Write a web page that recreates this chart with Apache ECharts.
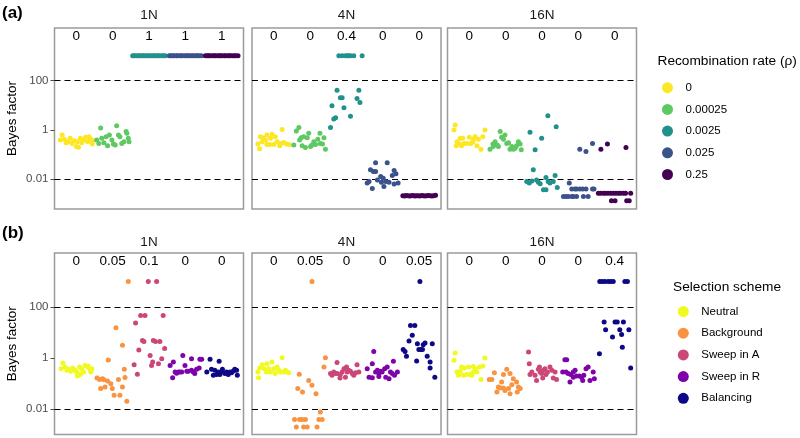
<!DOCTYPE html>
<html>
<head>
<meta charset="utf-8">
<script src="https://cdn.jsdelivr.net/npm/echarts@6/dist/echarts.min.js"></script>
<style>
html,body{margin:0;padding:0;background:#fff;}
#chart{width:800px;height:438px;}
</style>
</head>
<body>
<div id="chart"></div>
<script>
// ---------------- DATA ----------------
const panelNames = ['1N', '4N', '16N'];
const rhoNames = ['0', '0.00025', '0.0025', '0.025', '0.25'];
const rhoColors = ['#FDE725', '#5EC962', '#21918C', '#3B528B', '#440154'];
const selNames = ['Neutral', 'Background', 'Sweep in A', 'Sweep in R', 'Balancing'];
const selColors = ['#F0F921', '#F89441', '#CC4678', '#7E03A8', '#0D0887'];
const yTickValues = [0.01, 1, 100];
const yTickLabels = ['0.01', '1', '100'];
const refLines = [100, 0.01];
// fraction of replicates with saturated Bayes factor, shown on top of each column
const fracRho = [['0', '0', '1', '1', '1'], ['0', '0', '0.4', '0', '0'], ['0', '0', '0', '0', '0']];
const fracSel = [['0', '0.05', '0.1', '0', '0'], ['0', '0.05', '0', '0', '0.05'], ['0', '0', '0', '0', '0.4']];

// Each point: [jitter offset from column centre, log10(Bayes factor)]
// ---- (a) recombination rate, 1N ----
const rho1N_0 = [[-0.39,-0.21],[-0.44,-0.41],[-0.33,-0.38],[-0.28,-0.52],[-0.22,-0.48],[-0.17,-0.34],[-0.12,-0.55],[-0.06,-0.44],[0.00,-0.68],[0.06,-0.71],[0.11,-0.34],[0.15,-0.52],[0.20,-0.41],[0.25,-0.30],[0.31,-0.48],[0.35,-0.28],[0.40,-0.38],[0.44,-0.57],[0.45,-0.44],[0.03,-0.48]];
const rho1N_1 = [[-0.44,-0.41],[-0.38,-0.55],[-0.33,0.07],[-0.30,-0.34],[-0.24,-0.52],[-0.18,-0.28],[-0.14,-0.64],[-0.09,-0.21],[-0.02,-0.41],[0.02,-0.57],[0.07,-0.61],[0.11,0.17],[0.16,-0.21],[0.20,-0.28],[0.25,-0.55],[0.31,-0.48],[0.37,-0.07],[0.39,-0.14],[0.43,-0.34],[0.45,-0.48]];
const rho1N_2 = [[-0.45,3],[-0.41,3],[-0.36,3],[-0.30,3],[-0.27,3],[-0.21,3],[-0.17,3],[-0.13,3],[-0.07,3],[-0.03,3],[0.02,3],[0.06,3],[0.12,3],[0.15,3],[0.21,3],[0.25,3],[0.29,3],[0.35,3],[0.40,3],[0.45,3]];
const rho1N_3 = [[-0.44,3],[-0.40,3],[-0.35,3],[-0.31,3],[-0.25,3],[-0.22,3],[-0.16,3],[-0.12,3],[-0.08,3],[-0.02,3],[0.03,3],[0.07,3],[0.11,3],[0.17,3],[0.20,3],[0.26,3],[0.30,3],[0.34,3],[0.39,3],[0.44,3]];
const rho1N_4 = [[-0.45,3],[-0.40,3],[-0.36,3],[-0.32,3],[-0.26,3],[-0.21,3],[-0.18,3],[-0.12,3],[-0.07,3],[-0.04,3],[0.01,3],[0.07,3],[0.10,3],[0.16,3],[0.21,3],[0.24,3],[0.30,3],[0.35,3],[0.39,3],[0.45,3]];
// ---- (a) 4N ----
const rho4N_0 = [[0.23,0.01],[-0.37,-0.28],[-0.30,-0.32],[-0.19,-0.21],[-0.05,-0.18],[-0.09,-0.34],[0.04,-0.28],[-0.23,-0.41],[-0.44,-0.57],[-0.39,-0.77],[-0.32,-0.48],[-0.19,-0.59],[-0.11,-0.59],[0.00,-0.59],[0.09,-0.48],[0.16,-0.64],[0.20,-0.55],[0.27,-0.51],[0.35,-0.57],[0.42,-0.59]];
const rho4N_1 = [[-0.31,0.09],[-0.38,-0.05],[-0.25,-0.32],[-0.18,-0.28],[-0.08,-0.32],[-0.04,-0.14],[0.27,-0.14],[0.21,-0.38],[0.38,-0.32],[-0.45,-0.61],[-0.22,-0.65],[-0.13,-0.72],[0.01,-0.68],[0.05,-0.61],[0.15,-0.59],[0.28,-0.55],[0.34,-0.57],[0.42,-0.79],[-0.29,-0.41],[0.10,-0.48]];
const rho4N_2 = [[-0.21,3],[-0.12,3],[-0.03,3],[0.02,3],[0.06,3],[0.11,3],[0.20,3],[0.43,3],[-0.26,1.61],[0.34,1.61],[-0.17,1.30],[-0.12,1.30],[0.29,1.27],[0.37,1.11],[-0.40,0.98],[-0.07,0.90],[0.11,0.55],[-0.30,0.49],[-0.35,0.44],[-0.44,0.09]];
const rho4N_3 = [[-0.20,-1.33],[0.12,-1.33],[-0.34,-1.62],[-0.26,-1.69],[-0.20,-1.69],[0.31,-1.65],[-0.06,-1.89],[0.01,-1.96],[0.26,-1.85],[0.36,-1.78],[-0.43,-2.16],[-0.38,-2.09],[-0.15,-2.03],[-0.04,-2.13],[0.08,-2.09],[0.17,-2.13],[0.42,-2.16],[0.31,-2.20],[-0.29,-2.38],[0.03,-2.30]];
const rho4N_4 = [[-0.45,-2.67],[-0.40,-2.68],[-0.36,-2.66],[-0.31,-2.67],[-0.26,-2.68],[-0.22,-2.67],[-0.17,-2.66],[-0.12,-2.68],[-0.08,-2.67],[-0.03,-2.67],[0.02,-2.68],[0.07,-2.66],[0.11,-2.67],[0.16,-2.68],[0.21,-2.67],[0.25,-2.66],[0.30,-2.67],[0.35,-2.68],[0.40,-2.67],[0.45,-2.65]];
// ---- (a) 16N ----
const rho16N_0 = [[-0.39,0.20],[-0.42,-0.01],[0.43,-0.01],[0.16,-0.28],[0.37,-0.28],[-0.25,-0.34],[-0.18,-0.34],[0.00,-0.30],[0.11,-0.38],[0.25,-0.38],[-0.34,-0.48],[-0.27,-0.57],[-0.14,-0.55],[-0.07,-0.55],[0.04,-0.55],[0.10,-0.48],[0.21,-0.65],[-0.36,-0.65],[-0.21,-0.65],[0.32,-0.79]];
const rho16N_1 = [[-0.15,-0.07],[-0.11,-0.30],[-0.06,-0.38],[-0.29,-0.48],[-0.35,-0.57],[-0.23,-0.61],[0.03,-0.55],[0.08,-0.52],[0.12,-0.79],[-0.20,-0.68],[-0.43,-0.79],[-0.34,-0.68],[0.17,-0.68],[0.26,-0.75],[0.30,-0.65],[0.35,-0.48],[0.40,-0.57],[-0.02,-0.21],[0.21,-0.79],[0.43,-0.81]];
const rho16N_2 = [[0.16,0.57],[0.39,0.13],[-0.33,-0.10],[-0.01,-0.34],[-0.19,-0.81],[-0.24,-1.62],[-0.42,-2.09],[-0.35,-2.16],[-0.28,-2.07],[-0.15,-2.03],[-0.10,-2.13],[-0.05,-2.19],[0.11,-1.93],[0.17,-2.09],[0.22,-2.16],[0.36,-1.85],[0.31,-2.09],[0.04,-2.43],[0.11,-2.43],[0.42,-2.34]];
const rho16N_3 = [[0.04,-0.79],[0.21,-0.88],[0.39,-0.55],[-0.25,-2.16],[-0.18,-2.40],[-0.09,-2.40],[-0.05,-2.40],[0.04,-2.40],[0.12,-2.40],[0.39,-2.40],[-0.14,-2.70],[-0.41,-2.70],[-0.34,-2.70],[-0.28,-2.70],[-0.18,-2.70],[-0.05,-2.70],[0.14,-2.70],[0.27,-2.70],[0.21,-2.40],[0.43,-2.40]];
const rho16N_4 = [[-0.38,-0.79],[-0.20,-0.57],[0.31,-0.72],[-0.45,-2.57],[-0.39,-2.57],[-0.31,-2.57],[-0.25,-2.57],[-0.18,-2.57],[-0.11,-2.57],[-0.04,-2.57],[0.03,-2.57],[0.10,-2.57],[0.16,-2.57],[0.24,-2.57],[0.30,-2.57],[0.44,-2.57],[-0.09,-2.88],[0.01,-2.88],[0.33,-2.88],[0.40,-2.88]];
// ---- (b) selection scheme, 1N ----
const sel1N_0 = [[-0.37,-0.20],[-0.42,-0.42],[-0.31,-0.35],[-0.22,-0.44],[-0.15,-0.52],[-0.10,-0.39],[-0.03,-0.48],[0.03,-0.71],[0.11,-0.65],[0.09,-0.35],[0.15,-0.44],[0.20,-0.55],[0.24,-0.29],[0.31,-0.35],[0.38,-0.46],[0.43,-0.42],[0.40,-0.55],[-0.26,-0.48],[0.01,-0.55],[0.33,-0.31]];
const sel1N_1 = [[0.43,3],[0.09,1.19],[0.27,0.50],[-0.12,-0.08],[0.32,-0.44],[-0.43,-0.78],[-0.36,-0.84],[-0.28,-0.81],[-0.24,-0.85],[-0.14,-0.90],[-0.33,-1.20],[-0.21,-1.14],[-0.05,-1.01],[-0.01,-1.20],[0.04,-1.46],[0.16,-0.84],[0.20,-1.46],[0.27,-1.14],[0.34,-0.76],[0.39,-1.70]];
const sel1N_2 = [[-0.02,3],[0.21,3],[-0.11,1.67],[-0.23,1.67],[0.39,1.67],[-0.37,1.37],[-0.18,0.69],[-0.14,0.65],[0.12,0.69],[0.18,0.65],[0.30,0.65],[-0.28,0.31],[0.43,0.37],[0.03,0.10],[0.35,-0.03],[-0.41,-0.26],[0.07,-0.29],[0.26,-0.22],[-0.32,-0.64],[0.10,-0.16]];
const sel1N_3 = [[-0.07,0.10],[0.17,-0.03],[0.40,-0.05],[0.45,-0.05],[-0.42,-0.29],[-0.33,-0.16],[-0.28,-0.55],[-0.19,-0.55],[-0.15,-0.55],[-0.10,-0.55],[-0.01,-0.29],[0.04,-0.52],[0.08,-0.52],[0.17,-0.48],[0.22,-0.55],[0.31,-0.44],[0.38,-0.39],[-0.35,-0.77],[-0.24,-0.60],[0.26,-0.61]];
const sel1N_4 = [[-0.32,-0.05],[-0.07,-0.13],[-0.28,-0.44],[-0.19,-0.48],[-0.14,-0.65],[-0.05,-0.65],[0.00,-0.55],[0.09,-0.61],[0.13,-0.55],[0.18,-0.65],[0.23,-0.55],[0.27,-0.58],[0.32,-0.51],[0.36,-0.44],[0.41,-0.48],[0.43,-0.68],[-0.41,-0.55],[0.02,-0.44],[-0.23,-0.68],[-0.09,-0.55]];
// ---- (b) 4N ----
const sel4N_0 = [[0.23,0.01],[-0.05,-0.16],[-0.19,-0.22],[-0.32,-0.26],[-0.39,-0.39],[-0.26,-0.42],[-0.14,-0.42],[0.00,-0.42],[0.09,-0.35],[0.18,-0.55],[0.27,-0.55],[0.36,-0.55],[-0.44,-0.55],[-0.42,-0.77],[-0.09,-0.55],[0.04,-0.61],[0.32,-0.48],[0.14,-0.48],[0.41,-0.58],[-0.20,-0.55]];
const sel4N_1 = [[0.05,3],[0.42,0.01],[0.38,-0.35],[-0.30,-0.64],[-0.04,-0.88],[0.05,-1.07],[-0.34,-1.20],[-0.21,-1.33],[0.16,-1.40],[0.28,-2.12],[0.24,-2.41],[0.33,-2.41],[-0.43,-2.41],[-0.29,-2.41],[-0.22,-2.41],[-0.13,-2.41],[-0.38,-2.71],[-0.18,-2.71],[-0.08,-2.71],[0.19,-2.71]];
const sel4N_2 = [[-0.26,-0.18],[-0.44,-0.61],[-0.35,-0.55],[-0.26,-0.61],[-0.17,-0.65],[-0.12,-0.55],[-0.07,-0.42],[0.00,-0.35],[0.02,-0.55],[0.06,-0.48],[0.11,-0.52],[0.16,-0.61],[0.20,-0.68],[0.29,-0.26],[0.34,-0.55],[0.25,-0.58],[-0.18,-0.78],[-0.40,-0.68],[-0.03,-0.75],[-0.30,-0.61]];
const sel4N_3 = [[-0.25,0.26],[0.29,-0.13],[-0.29,-0.22],[-0.43,-0.42],[-0.38,-0.75],[-0.29,-0.77],[-0.20,-0.55],[-0.15,-0.48],[-0.11,-0.61],[-0.06,-0.52],[-0.02,-0.55],[0.05,-0.42],[0.12,-0.35],[0.08,-0.75],[0.17,-0.81],[0.21,-0.55],[0.26,-0.61],[0.32,-0.68],[0.40,-0.55],[-0.11,-0.72]];
const sel4N_4 = [[0.02,3],[-0.24,1.28],[-0.12,1.28],[-0.19,0.89],[-0.28,0.67],[-0.05,0.56],[0.11,0.52],[0.16,0.59],[0.04,0.33],[0.09,0.33],[-0.01,0.33],[-0.44,0.33],[-0.39,0.26],[-0.35,0.07],[-0.07,-0.12],[0.22,0.07],[0.30,-0.16],[0.36,0.56],[0.30,-0.39],[0.43,-0.75]];
// ---- (b) 16N ----
const sel16N_0 = [[-0.39,0.20],[-0.42,-0.09],[0.43,0.00],[0.37,-0.31],[0.28,-0.35],[-0.21,-0.35],[-0.14,-0.39],[-0.02,-0.35],[0.11,-0.33],[0.16,-0.42],[-0.34,-0.55],[-0.25,-0.52],[-0.16,-0.68],[-0.07,-0.65],[0.02,-0.65],[0.07,-0.68],[0.21,-0.55],[-0.30,-0.68],[0.32,-0.84],[0.11,-0.55]];
const sel16N_1 = [[-0.31,-0.58],[0.03,-0.44],[-0.45,-0.84],[-0.38,-0.84],[-0.06,-0.65],[0.12,-0.61],[0.21,-0.81],[-0.11,-0.94],[-0.20,-1.14],[-0.15,-1.18],[-0.06,-1.18],[-0.02,-1.27],[0.08,-1.20],[0.12,-1.40],[0.30,-0.94],[0.35,-1.14],[0.40,-1.20],[0.32,-1.33],[-0.24,-1.33],[0.17,-1.05]];
const sel16N_2 = [[-0.37,0.24],[-0.35,-0.22],[-0.28,-0.55],[-0.19,-0.68],[-0.10,-0.44],[-0.05,-0.55],[-0.01,-0.61],[0.04,-0.48],[0.08,-0.42],[0.11,-0.65],[0.15,-0.55],[0.22,-0.35],[0.27,-0.48],[0.31,-0.78],[0.36,-0.55],[0.40,-0.84],[-0.15,-0.88],[-0.33,-0.65],[-0.07,-0.35],[0.02,-0.78]];
const sel16N_3 = [[-0.37,-0.07],[-0.32,-0.07],[-0.43,-0.55],[-0.34,-0.55],[-0.28,-0.61],[-0.21,-0.65],[-0.14,-0.55],[-0.09,-0.48],[-0.05,-0.71],[0.03,-0.71],[0.09,-0.75],[0.15,-0.68],[0.21,-0.42],[0.27,-0.35],[0.32,-0.88],[0.41,-0.55],[0.44,-0.81],[-0.23,-0.94],[0.12,-0.88],[-0.14,-0.75]];
const sel16N_4 = [[-0.41,3],[-0.34,3],[-0.27,3],[-0.18,3],[-0.11,3],[-0.04,3],[0.28,3],[0.35,3],[-0.29,1.41],[0.01,1.41],[0.07,1.41],[0.24,1.41],[-0.25,1.11],[0.14,1.11],[0.39,1.11],[-0.06,0.82],[0.19,0.92],[0.21,0.42],[-0.42,0.17],[0.44,-0.39]];

const rhoGroups = [[rho1N_0, rho1N_1, rho1N_2, rho1N_3, rho1N_4],
                   [rho4N_0, rho4N_1, rho4N_2, rho4N_3, rho4N_4],
                   [rho16N_0, rho16N_1, rho16N_2, rho16N_3, rho16N_4]];
const selGroups = [[sel1N_0, sel1N_1, sel1N_2, sel1N_3, sel1N_4],
                   [sel4N_0, sel4N_1, sel4N_2, sel4N_3, sel4N_4],
                   [sel16N_0, sel16N_1, sel16N_2, sel16N_3, sel16N_4]];

// ---------------- LAYOUT ----------------
const gridLefts = [54.5, 252, 447.5];
const gridW = 189;
const rowTops = [28, 253];
const rowH = [181, 181.5];
const rowLogMin = [-3.21, -3.0];
const rowLogMax = [4.13, 4.12];

const rows = [
  {groups: rhoGroups, names: rhoNames, colors: rhoColors, frac: fracRho},
  {groups: selGroups, names: selNames, colors: selColors, frac: fracSel}
];
const FONT = 'Liberation Sans, Arial, sans-serif';

const grids = [], xAxes = [], yAxes = [], series = [];
function yFmt(v) {
  for (let i = 0; i < yTickValues.length; i++) {
    if (Math.abs(Math.log10(v) - Math.log10(yTickValues[i])) < 0.01) return yTickLabels[i];
  }
  return '';
}
rows.forEach((row, r) => {
  for (let p = 0; p < 3; p++) {
    const gi = r * 3 + p;
    grids.push({left: gridLefts[p], top: rowTops[r], width: gridW, height: rowH[r],
      show: true, borderColor: '#9a9a9a', borderWidth: 1.5, backgroundColor: '#fff'});
    xAxes.push({gridIndex: gi, type: 'value', min: 0.4, max: 5.6, position: 'bottom',
      axisLine: {show: false}, axisTick: {show: false}, axisLabel: {show: false}, splitLine: {show: false}});
    const fr = row.frac[p];
    xAxes.push({gridIndex: gi, type: 'value', min: 0.4, max: 5.6, position: 'top',
      axisLine: {show: false}, axisTick: {show: false}, splitLine: {show: false},
      axisLabel: {show: true, inside: true, margin: 1, customValues: [1, 2, 3, 4, 5],
        formatter: v => fr[Math.round(v) - 1], color: '#000', fontSize: 13.5, fontFamily: FONT}});
    yAxes.push({gridIndex: gi, type: 'log', logBase: 10,
      min: Math.pow(10, rowLogMin[r]), max: Math.pow(10, rowLogMax[r]),
      axisLine: {show: false}, splitLine: {show: false},
      axisTick: {show: p === 0, length: 4, customValues: yTickValues, lineStyle: {color: '#4d4d4d', width: 1}},
      axisLabel: {show: p === 0, customValues: yTickValues, formatter: yFmt, color: '#4d4d4d', fontSize: 11.5, margin: 6,
        fontFamily: FONT}});
    row.groups[p].forEach((pts, g) => {
      const s = {
        type: 'scatter', name: row.names[g], xAxisIndex: 2 * gi, yAxisIndex: gi,
        symbol: 'circle', symbolSize: 5, itemStyle: {color: row.colors[g], opacity: 1},
        data: pts.map(([dx, lg]) => [g + 1 + dx, Math.pow(10, lg)]),
        silent: true, z: 3
      };
      if (g === 0) {
        s.markLine = {silent: true, symbol: 'none', label: {show: false}, z: 1,
          lineStyle: {color: '#000', type: [6, 4], width: 1.1},
          data: refLines.map(v => ({yAxis: v}))};
      }
      series.push(s);
    });
  }
});

const graphics = [];
graphics.push({type: 'text', left: 2, top: 5, style: {text: '(a)', font: 'bold 17px ' + FONT, fill: '#000'}});
graphics.push({type: 'text', left: 2, top: 225, style: {text: '(b)', font: 'bold 17px ' + FONT, fill: '#000'}});
const panelTitleY = [15, 242.5];
rows.forEach((row, r) => {
  graphics.push({type: 'text', x: 12.5, y: rowTops[r] + rowH[r] / 2, rotation: Math.PI / 2,
    style: {text: 'Bayes factor', font: '13.5px ' + FONT, fill: '#000', align: 'center', verticalAlign: 'middle'}});
  for (let p = 0; p < 3; p++) {
    graphics.push({type: 'text', x: gridLefts[p] + gridW / 2, y: panelTitleY[r],
      style: {text: panelNames[p], font: '13.5px ' + FONT, fill: '#1a1a1a', align: 'center', verticalAlign: 'middle'}});
  }
});
graphics.push({type: 'text', x: 657.5, y: 61,
  style: {text: 'Recombination rate (ρ)', font: '13.7px ' + FONT, fill: '#000', align: 'left', verticalAlign: 'middle'}});
graphics.push({type: 'text', x: 673, y: 287,
  style: {text: 'Selection scheme', font: '13.7px ' + FONT, fill: '#000', align: 'left', verticalAlign: 'middle'}});

const option = {
  animation: false,
  backgroundColor: '#fff',
  grid: grids,
  xAxis: xAxes,
  yAxis: yAxes,
  series: series,
  graphic: graphics,
  legend: [
    {data: rhoNames, orient: 'vertical', left: 657, top: 76.7, icon: 'circle', itemWidth: 24, itemHeight: 11,
      itemGap: 9.7, selectedMode: false,
      textStyle: {fontSize: 11.5, color: '#000', fontFamily: FONT, lineHeight: 11, padding: [0, 0, 0, 1]}},
    {data: selNames, orient: 'vertical', left: 672.8, top: 300.5, icon: 'circle', itemWidth: 24, itemHeight: 11,
      itemGap: 9.7, selectedMode: false,
      textStyle: {fontSize: 11.5, color: '#000', fontFamily: FONT, lineHeight: 11, padding: [0, 0, 0, 1]}}
  ]
};
const chart = echarts.init(document.getElementById('chart'), null, {renderer: 'canvas'});
chart.setOption(option);
</script>
</body>
</html>
